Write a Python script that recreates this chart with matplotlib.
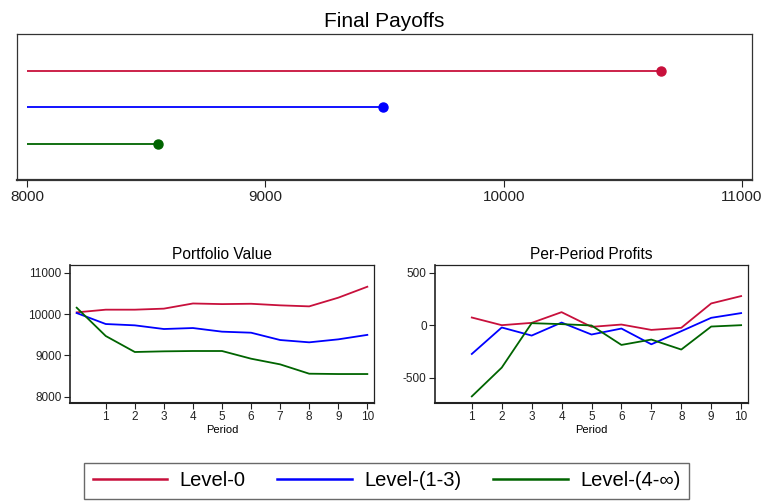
import matplotlib
matplotlib.use("Agg")
import matplotlib.pyplot as plt
from matplotlib.lines import Line2D

plt.rcParams['font.family'] = ['Liberation Sans', 'DejaVu Sans']

groups = ["Level-0", "Level-(1-3)", "Level-(4-\u221e)"]
colors = ["#C8103C", "#0000FF", "#006400"]

final_payoffs = [10660, 9495, 8548]

periods_value = [0, 1, 2, 3, 4, 5, 6, 7, 8, 9, 10]
value_l0 = [10040, 10105, 10105, 10130, 10255, 10240, 10248, 10210, 10185, 10395, 10660]
value_l13 = [10024, 9758, 9726, 9637, 9661, 9573, 9548, 9371, 9315, 9387, 9495]
value_l4 = [10153, 9468, 9081, 9097, 9105, 9105, 8919, 8782, 8556, 8548, 8548]

periods_profit = [1, 2, 3, 4, 5, 6, 7, 8, 9, 10]
profit_l0 = [73, 0, 22, 124, -16, 6, -45, -25, 207, 277]
profit_l13 = [-274, -22, -99, 25, -89, -32, -182, -57, 70, 115]
profit_l4 = [-678, -404, 19, 10, -3, -188, -137, -232, -13, 0]

value_series = [value_l0, value_l13, value_l4]
profit_series = [profit_l0, profit_l13, profit_l4]

W, H = 769, 504
fig = plt.figure(figsize=(W / 100, H / 100), dpi=100)


def box(x0, y0, x1, y1):
    return [x0 / W, 1 - y1 / H, (x1 - x0) / W, (y1 - y0) / H]


# Final payoffs dot-line panel
ax0 = fig.add_axes(box(17, 34, 752, 180))
ypos = [3, 2, 1]
for y, v, c in zip(ypos, final_payoffs, colors):
    ax0.hlines(y, 8000, v, color=c, lw=1.3)
    ax0.plot(v, y, 'o', color=c, ms=6.5)
ax0.set_xlim(7958, 11042)
ax0.set_ylim(0, 4)
ax0.set_yticks([])
ax0.set_xticks([8000, 9000, 10000, 11000])
ax0.tick_params(axis='x', labelsize=11, length=5, width=0.8, colors='#222222', pad=2)
for s in ax0.spines.values():
    s.set_linewidth(0.9)
    s.set_color('#333333')
ax0.spines['bottom'].set_linewidth(1.6)
ax0.set_title("Final Payoffs", fontsize=15, pad=5)


def line_panel(rect, xs, series, title, ylim, yticks, yticklabels):
    ax = fig.add_axes(box(*rect))
    for ys, c in zip(series, colors):
        ax.plot(xs, ys, color=c, lw=1.3)
    ax.set_xlim(-0.23, 10.23)
    ax.set_ylim(*ylim)
    ax.set_xticks(range(1, 11))
    ax.set_yticks(yticks)
    ax.set_yticklabels(yticklabels)
    ax.tick_params(labelsize=8.5, length=4, width=0.8, colors='#222222', pad=2)
    for s in ax.spines.values():
        s.set_linewidth(0.9)
        s.set_color('#222222')
    ax.spines['bottom'].set_linewidth(1.5)
    ax.spines['left'].set_linewidth(1.2)
    ax.set_xlabel("Period", fontsize=8, labelpad=1)
    ax.set_title(title, fontsize=11.2, pad=4)
    return ax


line_panel((70, 265, 374, 403), periods_value, value_series, "Portfolio Value",
           (7847, 11186), [8000, 9000, 10000, 11000],
           ["8000", "9000", "10000", "11000"])
line_panel((435, 265, 748, 403), periods_profit, profit_series, "Per-Period Profits",
           (-741, 573), [-500, 0, 500], ["-500", "0", "500"])

handles = [Line2D([0], [0], color=c, lw=1.8) for c in colors]
leg = fig.legend(handles, groups, loc='center', ncol=3,
                 bbox_to_anchor=(386.5 / W, 1 - 481 / H), fontsize=14.5,
                 frameon=True, fancybox=False, edgecolor='#444444',
                 handlelength=3.7, columnspacing=1.6, handletextpad=0.6,
                 borderpad=0.42, borderaxespad=0)
leg.get_frame().set_linewidth(1.0)

fig.savefig("out.png", dpi=100)
